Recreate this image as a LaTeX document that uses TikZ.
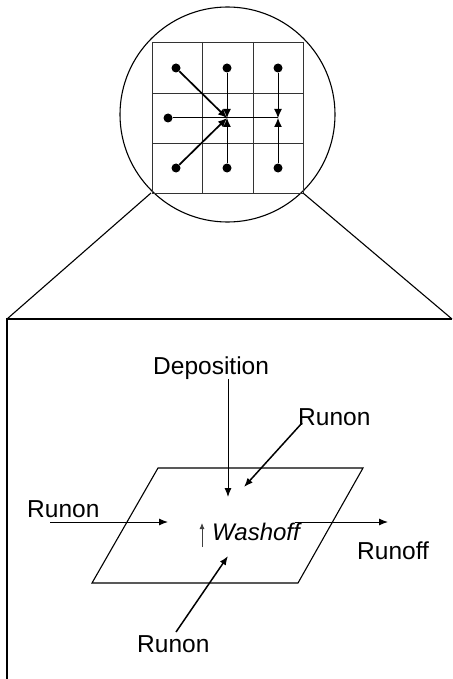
\documentclass[tikz,border=0pt]{standalone}
\usepackage{fontspec}
\setmainfont{Liberation Sans}
\usetikzlibrary{arrows.meta}
\tikzset{
  gridline/.style={line width=0.9pt, draw=black!80},
  outline/.style={line width=1.1pt, draw=black},
  dot/.style={circle, fill=black, inner sep=0pt, minimum size=9pt},
  thinflow/.style={line width=1pt, -{Latex[length=9pt,width=8pt]}},
  thickflow/.style={line width=1.7pt, -{Latex[length=9pt,width=8pt]}},
  plainflow/.style={line width=1pt},
  label/.style={inner sep=0pt, anchor=base west, font=\fontsize{24.5}{28}\selectfont},
  arr/.style={line width=1pt, -{Latex[length=9pt,width=7pt]}},
  darr/.style={line width=1.5pt, -{Latex[length=9pt,width=7pt]}},
}
\begin{document}
\begin{tikzpicture}[x=1pt,y=-1pt]
\useasboundingbox (0,0) rectangle (452,679);
% magnifier circle
\draw[outline] (227.5,114.5) circle (107.5);
% grid
\draw[gridline] (152,42) rectangle (303,193);
\draw[gridline] (202,42) -- (202,193) (253,42) -- (253,193);
\draw[gridline] (152,93) -- (303,93) (152,143) -- (303,143);
% dots
\node[dot] (tl) at (176,68) {};
\node[dot] (tm) at (227,68) {};
\node[dot] (tr) at (278,68) {};
\node[dot] (ml) at (168,118) {};
\node[dot] (bl) at (176,168) {};
\node[dot] (bm) at (227,168) {};
\node[dot] (br) at (278,168) {};
\coordinate (c) at (227,118);
\coordinate (r) at (278,118);
% grid flows
\draw[plainflow] (c) -- (r);
\draw[plainflow] (ml) -- (c);
\draw[thickflow] (tl) -- (c);
\draw[thickflow] (bl) -- (c);
\draw[thinflow] (tm) -- (c);
\draw[thinflow] (bm) -- (c);
\draw[thinflow] (tr) -- (r);
\draw[thinflow] (br) -- (r);
% zoom lines and panel
\coordinate (gl) at (151,193);
\coordinate (gr) at (303,193);
\coordinate (pl) at (7,319);
\coordinate (pr) at (452,319);
\coordinate (pb) at (7,679);
\draw[outline] (gl) -- (pl);
\draw[outline] (gr) -- (pr);
\draw[outline] (pb) -- (pl) -- (pr);
% parallelogram
\draw[outline] (158,468) -- (363,468) -- (298,583) -- (92,583) -- cycle;
% labels
\node[label] (dep) at (153,374) {Deposition};
\node[label] (rtr) at (298,425) {Runon};
\node[label] (rl) at (27,517) {Runon};
\node[label, font=\fontsize{24}{28}\selectfont\itshape] (wash) at (212,540) {Washoff};
\node[label] (roff) at (357,559) {Runoff};
\node[label] (rb) at (137,652) {Runon};
% flows
\coordinate (depS) at (228,379);
\coordinate (depE) at (228,497);
\coordinate (rtrS) at (302,423);
\coordinate (rtrE) at (244,487);
\coordinate (rlS) at (50,522);
\coordinate (rlE) at (168,522);
\coordinate (wS) at (202,547);
\coordinate (wE) at (202,523);
\coordinate (roS) at (295,522);
\coordinate (roE) at (388,522);
\coordinate (rbS) at (176,632);
\coordinate (rbE) at (228,556);
\draw[arr] (depS) -- (depE);
\draw[darr] (rtrS) -- (rtrE);
\draw[arr] (rlS) -- (rlE);
\draw[line width=0.8pt, -{Latex[length=6pt,width=5pt]}, draw=black!75] (wS) -- (wE);
\draw[arr] (roS) -- (roE);
\draw[darr] (rbS) -- (rbE);
\end{tikzpicture}
\end{document}
